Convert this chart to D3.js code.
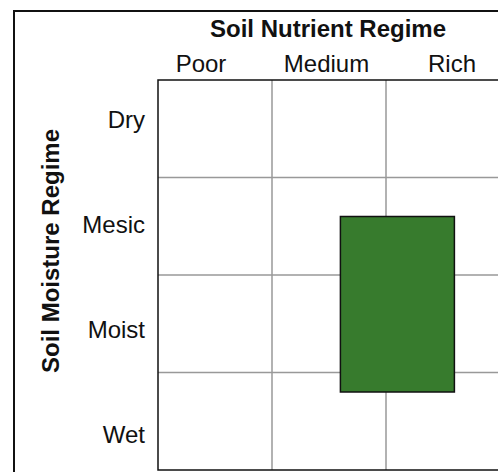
<!DOCTYPE html>
<html><head><meta charset="utf-8">
<script src="https://cdn.jsdelivr.net/npm/d3@7"></script>
<style>body{margin:0;background:#fff}svg{display:block}text{font-family:"Liberation Sans",Arial,sans-serif;fill:#111}</style>
</head><body><svg id="c" width="498" height="472"></svg>
<script>
const nutrients = ["Poor", "Medium", "Rich"];
const moistures = ["Dry", "Mesic", "Moist", "Wet"];
const xTitle = "Soil Nutrient Regime";
const yTitle = "Soil Moisture Regime";
// range box in grid units: nutrient [start,end], moisture [start,end]
const boxNutrient = [1.6, 2.6];
const boxMoisture = [1.4, 3.2];

const svg = d3.select("#c");
const L = 158, T = 80, R = 500, B = 470;
const x = d3.scaleLinear().domain([0, nutrients.length]).range([L, R]);
const y = d3.scaleLinear().domain([0, moistures.length]).range([T, B]);
// label positions
const xl = d3.scalePoint().domain(nutrients).range([201, 452]);
const yl = d3.scalePoint().domain(moistures).range([128, 443]);

// outer frame
svg.append("rect").attr("x", 14).attr("y", 11).attr("width", 500).attr("height", 480)
  .attr("fill", "none").attr("stroke", "#111").attr("stroke-width", 2);

// grid
const g = svg.append("g");
d3.range(1, nutrients.length).forEach(i => {
  g.append("line").attr("x1", x(i)).attr("x2", x(i)).attr("y1", T).attr("y2", B)
    .attr("stroke", "#999").attr("stroke-width", 1.5);
});
d3.range(1, moistures.length).forEach(i => {
  g.append("line").attr("x1", L).attr("x2", R).attr("y1", y(i)).attr("y2", y(i))
    .attr("stroke", "#999").attr("stroke-width", 1.5);
});
// plot border
svg.append("rect").attr("x", L).attr("y", T).attr("width", R - L).attr("height", B - T)
  .attr("fill", "none").attr("stroke", "#111").attr("stroke-width", 1.5);

// box
svg.append("rect")
  .attr("x", x(boxNutrient[0])).attr("y", y(boxMoisture[0]))
  .attr("width", x(boxNutrient[1]) - x(boxNutrient[0]))
  .attr("height", y(boxMoisture[1]) - y(boxMoisture[0]))
  .attr("fill", "#377b2d").attr("stroke", "#111").attr("stroke-width", 1.5);

// labels
svg.selectAll(".xl").data(nutrients).join("text")
  .attr("x", d => xl(d)).attr("y", 72).attr("text-anchor", "middle")
  .attr("font-size", 24).text(d => d);
svg.selectAll(".yl").data(moistures).join("text")
  .attr("x", 145).attr("y", d => yl(d)).attr("text-anchor", "end")
  .attr("font-size", 24).text(d => d);

svg.append("text").attr("x", 328).attr("y", 37).attr("text-anchor", "middle")
  .attr("font-size", 24).attr("font-weight", "bold").text(xTitle);
svg.append("text").attr("transform", "translate(59,251) rotate(-90)")
  .attr("text-anchor", "middle").attr("font-size", 24).attr("font-weight", "bold").text(yTitle);
</script></body></html>
